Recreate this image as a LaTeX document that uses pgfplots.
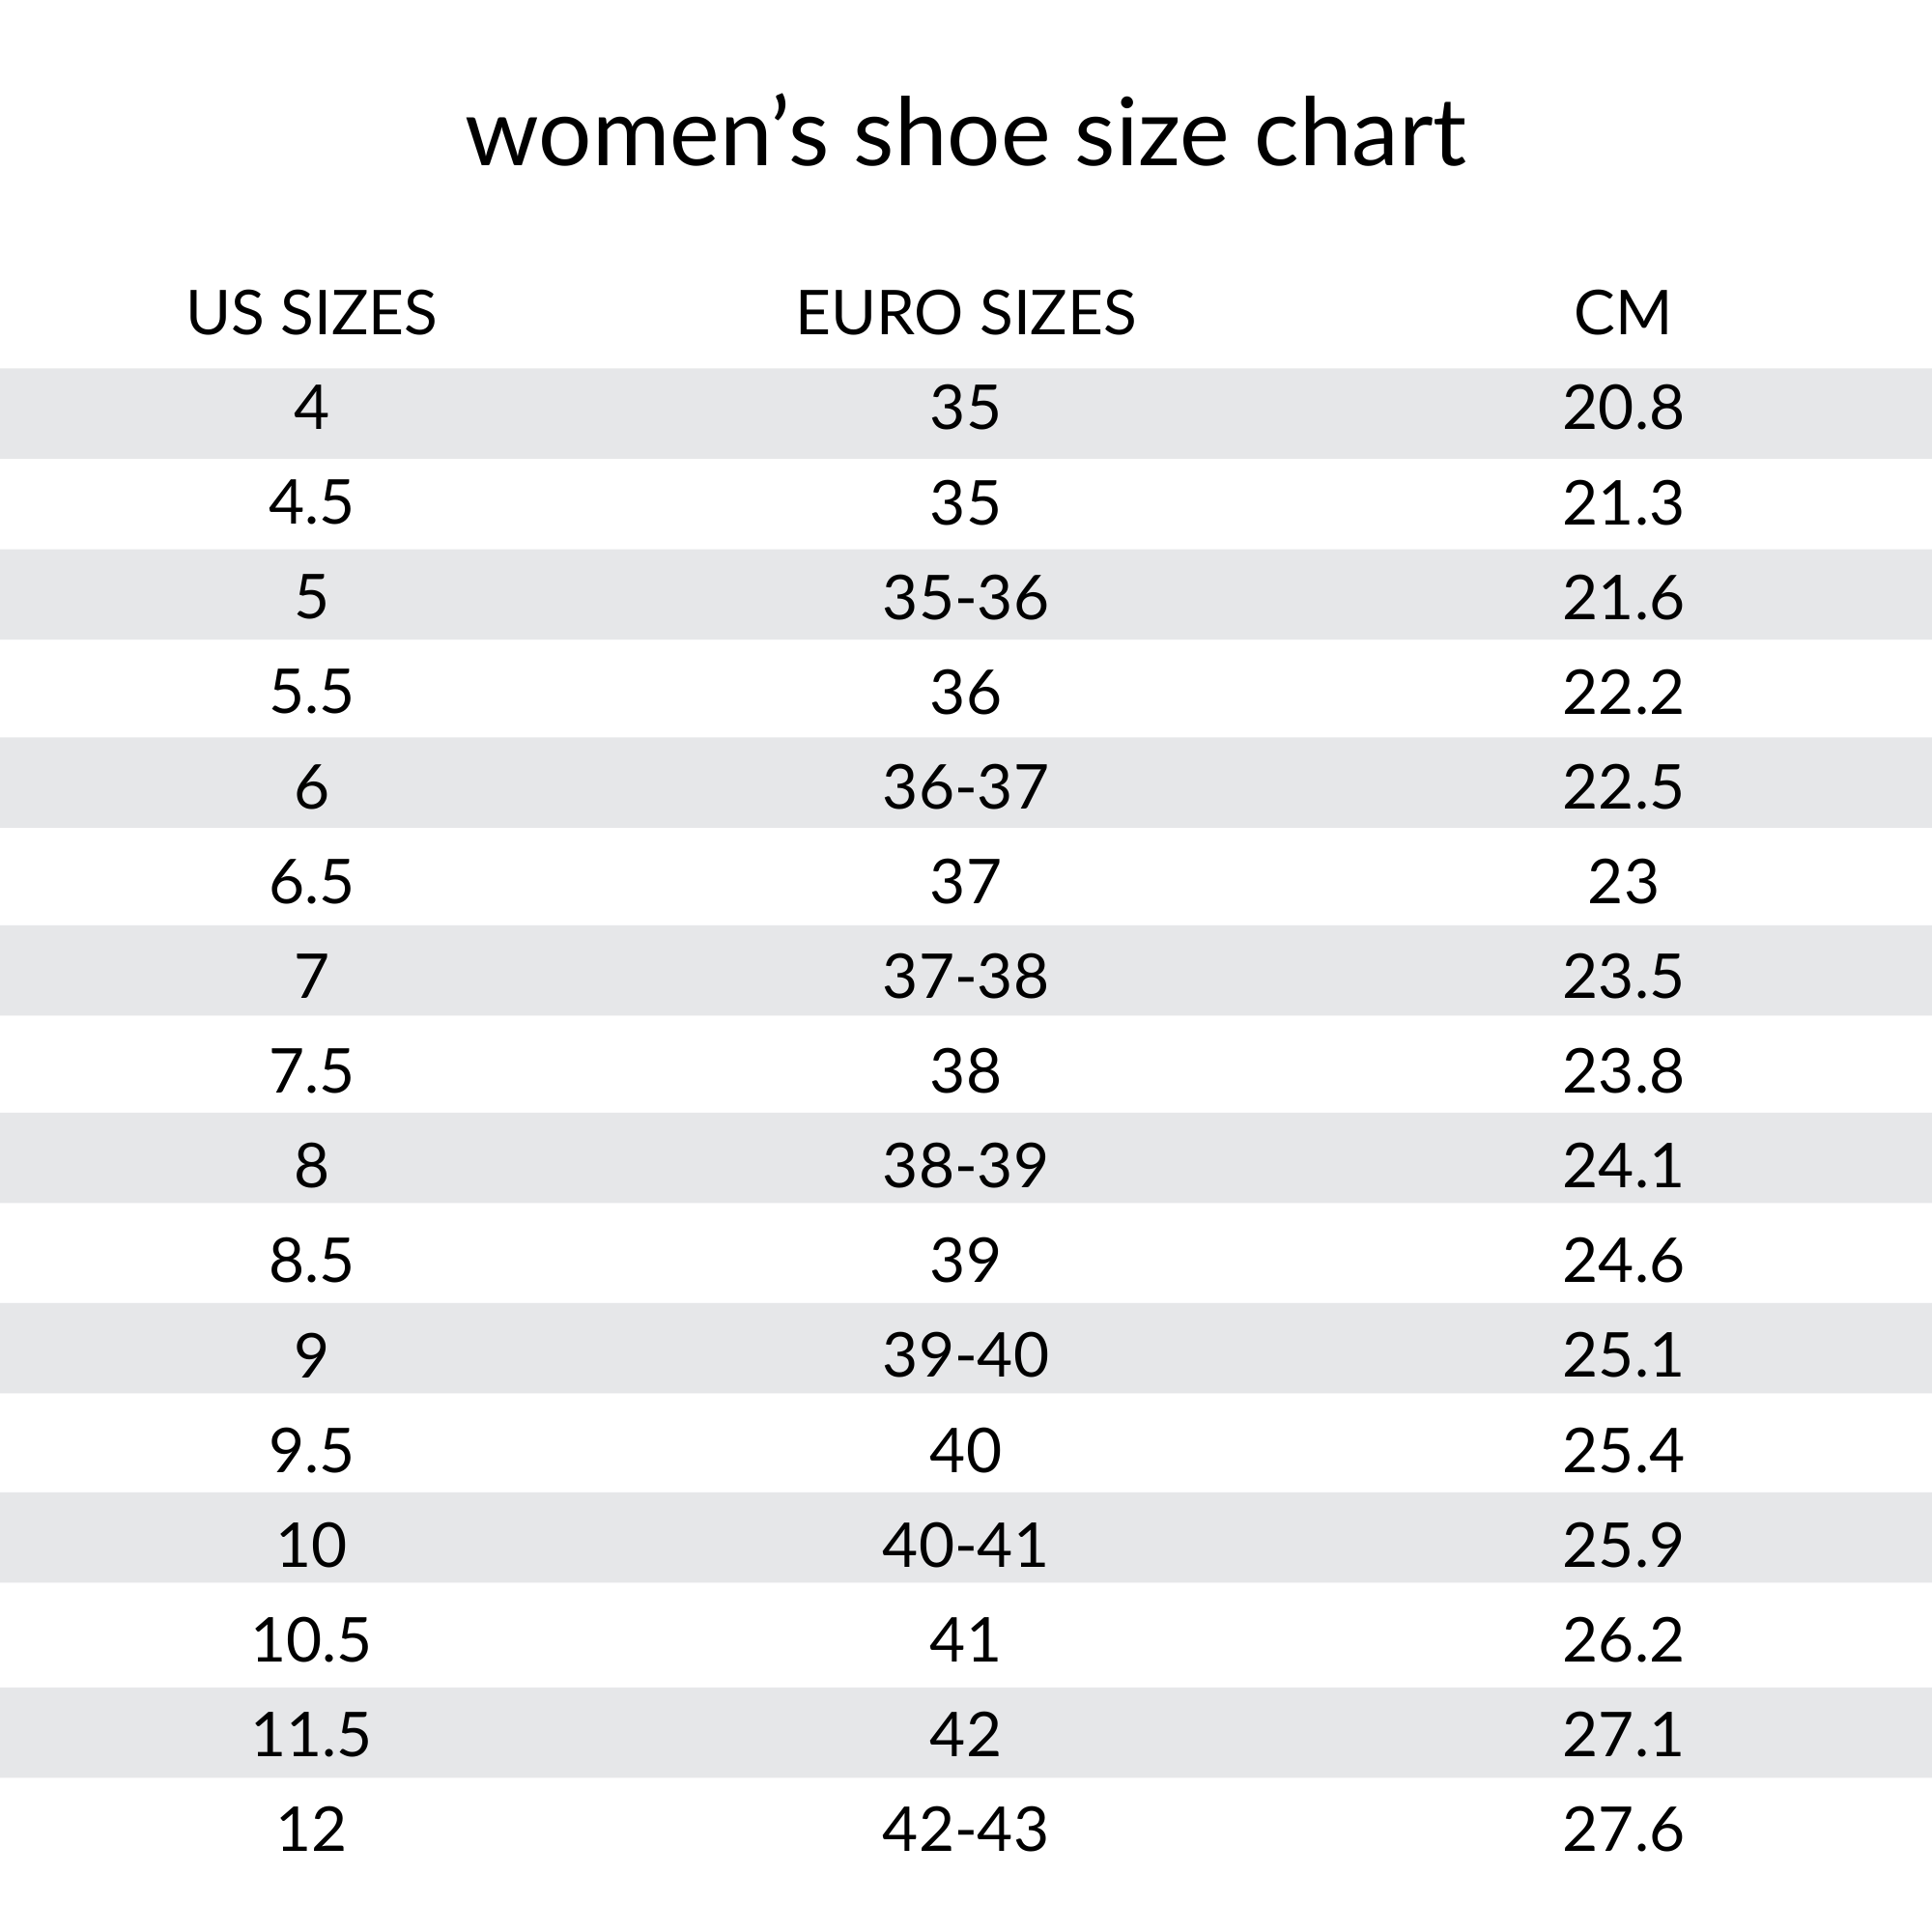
\documentclass[border=0pt]{standalone}
\usepackage{fontspec}
\setmainfont{Lato}
\usepackage{pgfplots}
\pgfplotsset{compat=1.18}
\usepackage{pgfplotstable}
\definecolor{stripe}{HTML}{E6E7E9}

% one row per size, y = row centre in picture pixels (0 = top)
\pgfplotstableread{
y us eu cm
422.0 4 35 20.8
520.1 4.5 35 21.3
618.2 5 35-36 21.6
716.3 5.5 36 22.2
814.4 6 36-37 22.5
912.5 6.5 37 23
1010.6 7 37-38 23.5
1108.7 7.5 38 23.8
1206.8 8 38-39 24.1
1304.9 8.5 39 24.6
1403.0 9 39-40 25.1
1501.1 9.5 40 25.4
1599.2 10 40-41 25.9
1697.3 10.5 41 26.2
1795.4 11.5 42 27.1
1893.5 12 42-43 27.6
}\sizes

% grey bands behind every other row (centres, pixels)
\pgfplotstableread{
y
428.0
615.4
810.0
1004.5
1198.5
1395.5
1591.7
1793.5
}\bands

\newcommand{\bodyfont}{\fontsize{18.2}{22}\selectfont}

\begin{document}
\begin{tikzpicture}
\begin{axis}[
  scale only axis, width=20cm, height=20cm,
  xmin=0, xmax=2000, ymin=0, ymax=2000, y dir=reverse,
  enlargelimits=false, hide axis, clip=false,
  nodes near coords align={center},
]
\addplot[fill=white, draw=none] coordinates {(0,0) (2000,0) (2000,2000) (0,2000)} -- cycle;
\addplot[xbar, bar width=93.5, fill=stripe, draw=none] table[x expr=2000, y=y] {\bands};

\pgfplotsset{every node near coord/.style={anchor=center, inner sep=0pt, text=black, font=\bodyfont}}
\addplot[draw=none, mark=none, nodes near coords, point meta=explicit symbolic]
  table[x expr=322.7, y=y, meta=us] {\sizes};
\addplot[draw=none, mark=none, nodes near coords, point meta=explicit symbolic]
  table[x expr=1000, y=y, meta=eu] {\sizes};
\addplot[draw=none, mark=none, nodes near coords, point meta=explicit symbolic]
  table[x expr=1681, y=y, meta=cm] {\sizes};

\node[anchor=base, inner sep=0pt, font=\fontsize{27.8}{32}\selectfont] at (axis cs:1000,171) {women’s shoe size chart};
\node[anchor=center, inner sep=0pt, font=\bodyfont] at (axis cs:322.7,323.7) {US SIZES};
\node[anchor=center, inner sep=0pt, font=\bodyfont] at (axis cs:1000,323.7) {EURO SIZES};
\node[anchor=center, inner sep=0pt, font=\bodyfont] at (axis cs:1681,323.7) {CM};
\end{axis}
\end{tikzpicture}
\end{document}
